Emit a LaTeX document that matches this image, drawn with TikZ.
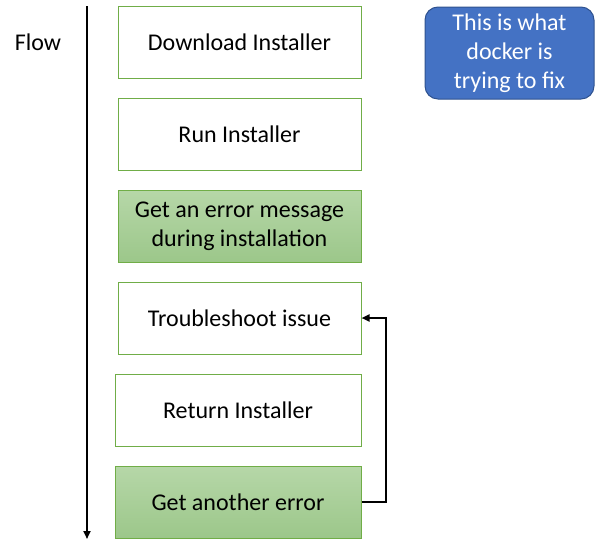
\documentclass[tikz,border=0pt]{standalone}
\usepackage{fontspec}
\setmainfont{Carlito}
\usetikzlibrary{arrows.meta}
\definecolor{boxgreen}{HTML}{70AD47}
\definecolor{gtop}{HTML}{B6D7A8}
\definecolor{gbot}{HTML}{9CC78A}
\definecolor{noteblue}{HTML}{4472C4}
\definecolor{noteedge}{HTML}{2F528F}
\begin{document}
\begin{tikzpicture}[x=1pt,y=-1pt,
  txt/.style={font=\fontsize{24}{29}\selectfont},
  stepbox/.style={txt, draw=boxgreen, line width=1pt, fill=white, minimum height=72pt, inner sep=0pt, align=center},
  errbox/.style={stepbox, top color=gtop, bottom color=gbot},
  notebox/.style={txt, draw=noteedge, line width=1pt, fill=noteblue, text=white, rounded corners=13pt, minimum width=169pt, minimum height=92pt, inner sep=0pt, align=center},
  conn/.style={line width=2pt, -{Triangle[length=8pt,width=7pt]}}
]
\useasboundingbox (0,0) rectangle (610,546);
\node[stepbox, minimum width=243pt] (b1) at (239.5,42) {Download Installer};
\node[stepbox, minimum width=243pt] (b2) at (239.5,134) {Run Installer};
\node[errbox, minimum width=243pt] (b3) at (239.5,226) {Get an error message\\during installation};
\node[stepbox, minimum width=243pt] (b4) at (239.5,318) {Troubleshoot issue};
\node[stepbox, minimum width=246pt] (b5) at (238,410) {Return Installer};
\node[errbox, minimum width=246pt] (b6) at (238,502) {Get another error};
\node[notebox] (note) at (509.5,53) {This is what\\docker is\\trying to fix};
\node[txt, inner sep=0pt] (flow) at (38,42) {Flow};
\coordinate (ftop) at (87,6);
\coordinate (fbot) at (87,539);
\draw[conn] (ftop) -- (fbot);
\draw[conn] (b6.east) -- ++(24,0) |- (b4.east);
\end{tikzpicture}
\end{document}
